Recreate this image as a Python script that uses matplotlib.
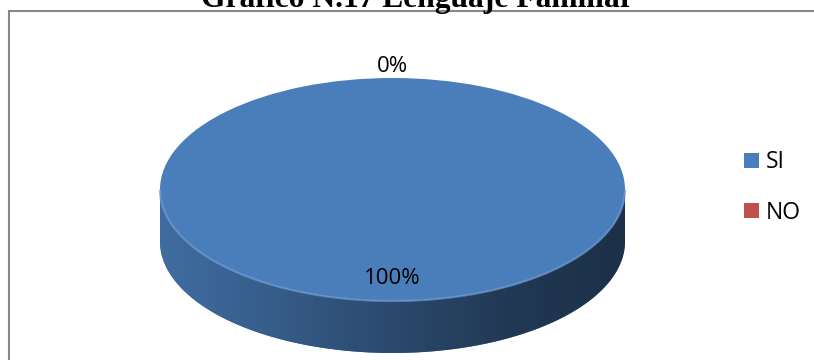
import numpy as np
import matplotlib.pyplot as plt
from matplotlib.colors import to_rgb
from matplotlib.patches import Polygon, Rectangle

# data
categories = ['SI', 'NO']
values = [100, 0]
colors = ['#4a7ebb', '#c0504d']
title = 'Gráfico N.17 Lenguaje Familiar'

W, H = 814, 360
fig = plt.figure(figsize=(W / 100, H / 100), dpi=100)
ax = fig.add_axes([0, 0, 1, 1])

# ellipse of the pie top, in pixels (centre and half axes) and rim depth
cx, cy, a, b = 392.5, 189.5, 232.5, 111.5
depth = 52 / b

wedges, _ = ax.pie(values, colors=colors, startangle=90, counterclock=False,
                   radius=1, wedgeprops=dict(linewidth=0, zorder=3))


def front_arcs(t1, t2):
    # parts of the angle range [t1, t2] that lie on the near half of the rim
    if t2 - t1 >= 360:
        return [(180, 360)]
    s = t1 % 360
    e = s + (t2 - t1)
    out = []
    for base in (180, 540):
        lo, hi = max(s, base), min(e, base + 180)
        if hi > lo:
            out.append((lo, hi))
    return out


# rim of the pie, shaded darker towards the right
gx = np.linspace(-1, 1, 300)
shade = np.interp(gx, [-1, -0.6, 0, 0.5, 1], [0.86, 0.76, 0.58, 0.45, 0.38])
for w, c in zip(wedges, colors):
    for lo, hi in front_arcs(w.theta1, w.theta2):
        t = np.deg2rad(np.linspace(lo, hi, 200))
        top = np.column_stack([np.cos(t), np.sin(t)])
        bot = np.column_stack([np.cos(t), np.sin(t) - depth])[::-1]
        side = Polygon(np.vstack([top, bot]), closed=True, facecolor=c,
                       edgecolor='none', zorder=2)
        ax.add_patch(side)
        img = shade[None, :, None] * np.array(to_rgb(c))[None, None, :]
        im = ax.imshow(img, extent=[-1, 1, -1 - depth, 0], aspect='auto',
                       interpolation='bilinear', zorder=2.1)
        im.set_clip_path(side)
        ax.plot(top[:, 0], top[:, 1], color='#6a98cf', lw=1.6, alpha=0.7,
                zorder=4, solid_capstyle='butt')

# percentage labels
total = sum(values)
for w, v in zip(wedges, values):
    mid = np.deg2rad((w.theta1 + w.theta2) / 2)
    pct = 100 * v / total
    r = 0.80 if pct >= 5 else 1.10
    ax.text(r * np.cos(mid), r * np.sin(mid), f'{pct:.0f}%', ha='center',
            va='center', fontsize=16, family='Open Sans', color='black',
            zorder=5)

ax.set_aspect('auto')
ax.set_xlim(-cx / a, (W - cx) / a)
ax.set_ylim((cy - H) / b, cy / b)
ax.axis('off')

ax.legend(wedges, categories, loc='center left',
          bbox_to_anchor=(744 / W, 1 - 187.5 / H), bbox_transform=fig.transFigure,
          frameon=False, prop=dict(family='Open Sans', size=16.5),
          handlelength=0.66, handleheight=0.66, handletextpad=0.3,
          labelspacing=1.15, borderpad=0, borderaxespad=0)

# chart frame and title
fig.add_artist(Rectangle((8.5 / W, -0.1), 2, 1.1 - 11 / H, transform=fig.transFigure,
                         fill=False, edgecolor='#888888', lw=1.5))
fig.text(417 / W, 1 - 6.5 / H, title, ha='center', va='baseline', fontsize=22.7,
         fontweight='bold', family='Liberation Serif')

fig.savefig('out.png', dpi=100)
